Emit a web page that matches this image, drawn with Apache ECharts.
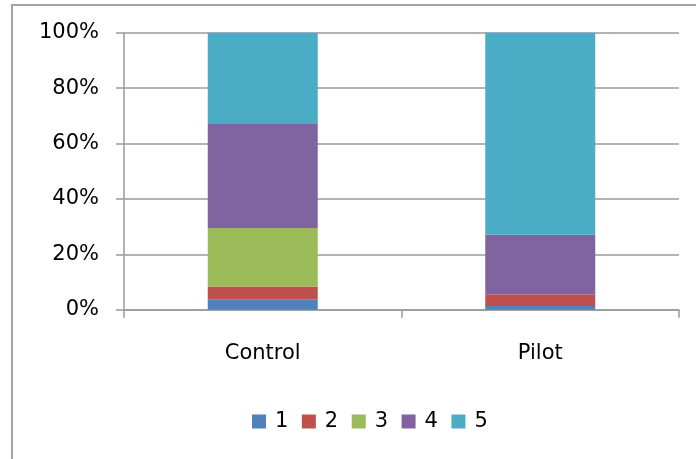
<!DOCTYPE html>
<html>
<head>
<meta charset="utf-8">
<script src="https://cdn.jsdelivr.net/npm/echarts@6/dist/echarts.min.js"></script>
<style>
html,body{margin:0;padding:0;background:#fff;}
#chart{width:696px;height:459px;}
</style>
</head>
<body>
<div id="chart"></div>
<script>
const categories = ['Control', 'Pilot'];
const seriesNames = ['1', '2', '3', '4', '5'];
const s1 = [3.6, 1.3];
const s2 = [4.8, 4.3];
const s3 = [21.1, 0];
const s4 = [37.5, 21.5];
const s5 = [33.0, 72.9];
const yTicks = [0, 20, 40, 60, 80, 100];
const colors = ['#4F81BD', '#C0504D', '#9BBB59', '#8064A2', '#4BACC6'];

const allValues = [s1, s2, s3, s4, s5];
const FONT = 'DejaVu Sans';
const chart = echarts.init(document.getElementById('chart'));
chart.setOption({
  animation: false,
  color: colors,
  graphic: [{
    type: 'rect',
    shape: { x: 12, y: 5, width: 720, height: 480 },
    style: { fill: 'none', stroke: '#a3a3a3', lineWidth: 2 },
    silent: true
  }],
  grid: { left: 124, right: 17, top: 32.7, bottom: 149.3, containLabel: false },
  legend: {
    left: 247,
    top: 406,
    icon: 'rect',
    itemWidth: 14,
    itemHeight: 14,
    itemGap: 13.5,
    data: seriesNames,
    textStyle: { fontFamily: FONT, fontSize: 21, color: '#000', padding: [0, 0, 0, 4] }
  },
  xAxis: {
    type: 'category',
    data: categories,
    axisLine: { lineStyle: { color: '#9a9a9a', width: 1.5 } },
    axisTick: { show: true, length: 8, lineStyle: { color: '#9a9a9a', width: 1.5 } },
    axisLabel: { fontFamily: FONT, fontSize: 21, color: '#000', margin: 33 }
  },
  yAxis: {
    type: 'value',
    min: yTicks[0],
    max: yTicks[yTicks.length - 1],
    interval: 20,
    axisLine: { show: true, lineStyle: { color: '#9a9a9a', width: 1.5 } },
    axisTick: { show: true, length: 8, lineStyle: { color: '#9a9a9a', width: 1.5 } },
    splitLine: { show: true, lineStyle: { color: '#9a9a9a', width: 1.5 } },
    axisLabel: { fontFamily: FONT, fontSize: 21, color: '#000', margin: 25, formatter: '{value}%' }
  },
  series: seriesNames.map((n, i) => ({
    name: n,
    type: 'bar',
    stack: 'total',
    barWidth: 110,
    data: allValues[i],
    itemStyle: { color: colors[i] }
  }))
});
</script>
</body>
</html>
